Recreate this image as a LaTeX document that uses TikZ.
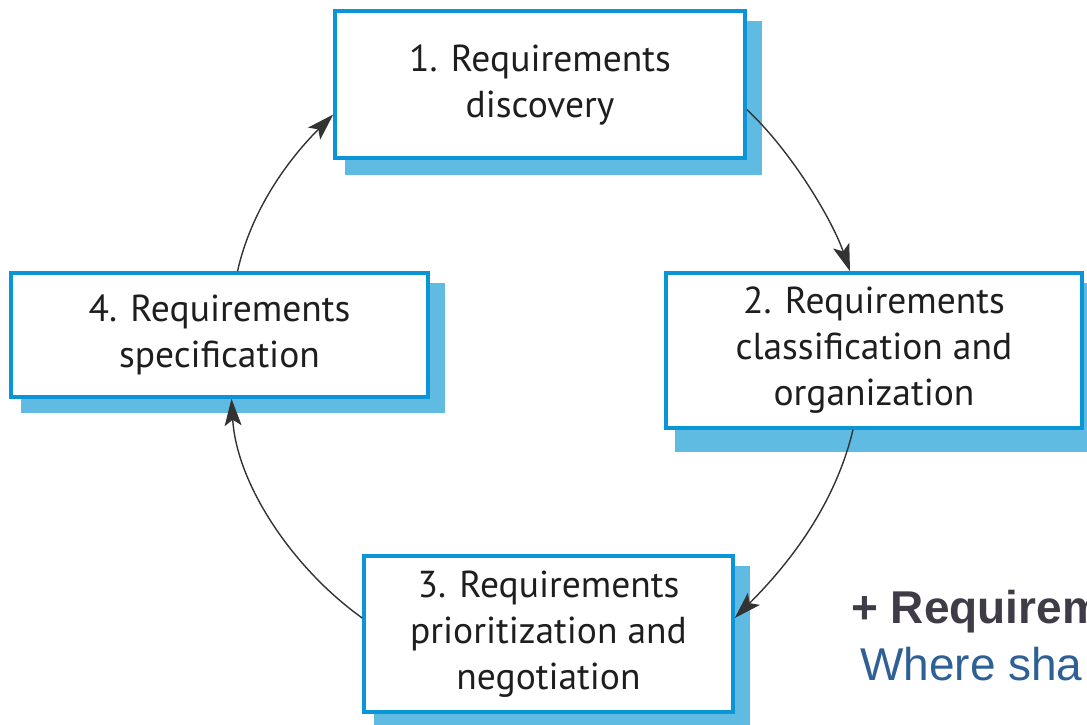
\documentclass[tikz,border=0pt]{standalone}
\usepackage{fontspec}
\setmainfont{PT Sans}
\newfontfamily\headfont{Liberation Sans}
\usetikzlibrary{arrows.meta,calc,backgrounds}

\definecolor{boxline}{HTML}{0A96D6}
\definecolor{boxshade}{HTML}{5FBBE2}
\definecolor{inktext}{HTML}{1E1E1E}
\definecolor{arrowink}{HTML}{333333}
\definecolor{headgray}{HTML}{3F3B47}
\definecolor{headblue}{HTML}{2E6096}

\begin{document}
\begin{tikzpicture}[x=1pt,y=-1pt,
  stage/.style={draw=boxline,line width=3.5pt,fill=white,align=center,
    inner sep=0pt,text=inktext,font=\fontsize{37.5}{46}\selectfont},
  flow/.style={draw=arrowink,line width=1.4pt,
    -{Stealth[length=27pt,width=17pt,inset=6pt]}},
  shade/.style={fill=boxshade},
  caption/.style={anchor=base west,inner sep=0pt}]

\useasboundingbox (0,0) rectangle (1087,724);
\clip (0,0) rectangle (1087,724);

% the four activity boxes
\node[stage,minimum width=410pt,minimum height=147pt] (b1) at (540,84.5)
  {1. Requirements\\discovery};
\node[stage,minimum width=416pt,minimum height=155pt] (b2) at (874,350.5)
  {2. Requirements\\classification and\\organization};
\node[stage,minimum width=369pt,minimum height=156pt] (b3) at (548.5,634)
  {3. Requirements\\prioritization and\\negotiation};
\node[stage,minimum width=417pt,minimum height=124pt] (b4) at (219.5,335)
  {4. Requirements\\specification};

% drop shadows behind the boxes
\begin{scope}[on background layer]
  \fill[shade] ($(b1.north west)+(12,12)$) rectangle ($(b1.south east)+(15,15)$);
  \fill[shade] ($(b2.north west)+(11,12)$) rectangle ($(b2.south east)+(15,22)$);
  \fill[shade] ($(b3.north west)+(12,12)$) rectangle ($(b3.south east)+(15,12)$);
  \fill[shade] ($(b4.north west)+(12,12)$) rectangle ($(b4.south east)+(15,14)$);
\end{scope}

% the cycle
\draw[flow] ($(b1.east)+(0,25)$) .. controls +(44,41) and +(-18,-52) .. ($(b2.north)+(-24,0)$);
\draw[flow] ($(b2.south)+(-21,0)$) .. controls +(-18,75) and +(55,-55) .. ($(b3.east)+(0,-16)$);
\draw[flow] ($(b3.west)+(0,-16)$) .. controls +(-70,-50) and +(5,85) .. ($(b4.south)+(12,0)$);
\draw[flow] ($(b4.north)+(18,0)$) .. controls +(14,-62) and +(-45,45) .. ($(b1.west)+(0,30)$);

% slide text at the lower right
\node[caption,text=headgray,font=\headfont\bfseries\fontsize{46}{46}\selectfont] (h1) at (851,623) {+ Requirem};
\node[caption,text=headblue,font=\headfont\fontsize{46}{46}\selectfont] (h2) at (860,680) {Where sha};
\end{tikzpicture}
\end{document}
